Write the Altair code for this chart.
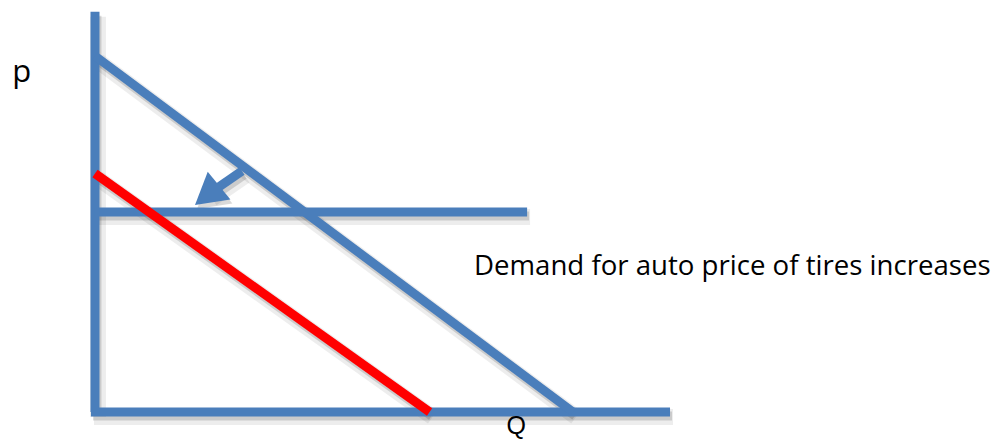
import altair as alt
import pandas as pd

# ---- data (economic units: Q horizontal, p vertical) ----
series_names = ["p axis", "Q axis", "Demand", "Price", "Arrow", "New demand"]
p_axis_Q = [0, 0]
p_axis_p = [0, 112.4]
q_axis_Q = [-0.84, 120.3]
q_axis_p = [0, 0]
demand_Q = [0, 100]
demand_p = [100, 0]
price_Q = [0, 90.4]
price_p = [56.2, 56.2]
arrow_Q = [30.75, 23.85]
arrow_p = [67.7, 61.3]
new_demand_Q = [0, 70]
new_demand_p = [67, 0]

head_Q = [23.85]
head_p = [61.3]

label_p_text = ["p"]
label_p_Q = [-17.3]
label_p_p = [92.7]
label_q_text = ["Q"]
label_q_Q = [88.1]
label_q_p = [-6.04]
note_text = ["Demand for auto price of tires increases"]
note_Q = [79.3]
note_p = [38.5]

BLUE = "#4A7EBB"
RED = "#FF0000"

rows = []
for name, qs, ps in [
    ("p axis", p_axis_Q, p_axis_p),
    ("Q axis", q_axis_Q, q_axis_p),
    ("Demand", demand_Q, demand_p),
    ("Price", price_Q, price_p),
    ("Arrow", arrow_Q, arrow_p),
    ("New demand", new_demand_Q, new_demand_p),
]:
    for i, (q, p) in enumerate(zip(qs, ps)):
        rows.append({"series": name, "Q": q, "p": p, "order": i})
lines_df = pd.DataFrame(rows)
head_df = pd.DataFrame({"Q": head_Q, "p": head_p})

xs = alt.Scale(domain=[-18.20, 187.66], nice=False, zero=False)
ys = alt.Scale(domain=[-7.58, 113.48], nice=False, zero=False)
X = alt.X("Q:Q", scale=xs, axis=None)
Y = alt.Y("p:Q", scale=ys, axis=None)

color_scale = alt.Scale(domain=series_names,
                        range=[BLUE, BLUE, BLUE, BLUE, BLUE, RED])

base = alt.Chart(lines_df)

shadow_wide = base.mark_line(color="black", opacity=0.07, strokeWidth=16,
                             strokeCap="butt", xOffset=3, yOffset=5).encode(
    x=X, y=Y, detail="series:N", order="order:Q")
shadow = base.mark_line(color="black", opacity=0.14, strokeWidth=9,
                        strokeCap="butt", xOffset=2, yOffset=4).encode(
    x=X, y=Y, detail="series:N", order="order:Q")

lines = base.mark_line(strokeWidth=9, strokeCap="butt").encode(
    x=X, y=Y,
    color=alt.Color("series:N", scale=color_scale, legend=None),
    order="order:Q",
)

HEAD_SHAPE = "M0,-1L1,0.72L-1,0.72Z"
head_shadow = alt.Chart(head_df).mark_point(
    shape=HEAD_SHAPE, size=1296, filled=True, angle=231,
    color="black", opacity=0.15, xOffset=2, yOffset=4).encode(x=X, y=Y)
head = alt.Chart(head_df).mark_point(
    shape=HEAD_SHAPE, size=1296, filled=True, angle=231,
    color=BLUE, opacity=1).encode(x=X, y=Y)

FONT = "Open Sans"
p_label = alt.Chart(pd.DataFrame({"t": label_p_text, "Q": label_p_Q, "p": label_p_p})).mark_text(
    font=FONT, fontSize=31, align="left", baseline="alphabetic", color="black").encode(
    x=X, y=Y, text="t:N")
q_label = alt.Chart(pd.DataFrame({"t": label_q_text, "Q": label_q_Q, "p": label_q_p})).mark_text(
    font="Liberation Sans", fontSize=25, align="center", baseline="alphabetic", color="black").encode(
    x=X, y=Y, text="t:N")
note = alt.Chart(pd.DataFrame({"t": note_text, "Q": note_Q, "p": note_p})).mark_text(
    font=FONT, fontSize=27.6, align="left", baseline="alphabetic", color="black").encode(
    x=X, y=Y, text="t:N")

chart = alt.layer(
    shadow_wide, shadow, head_shadow, lines, head, p_label, q_label, note
).properties(
    width=984, height=431,
    autosize=alt.AutoSizeParams(type="none"),
    padding=0,
    background="white",
).configure_view(stroke=None)

chart.save("out.html", embed_options={"renderer": "svg", "actions": False})
